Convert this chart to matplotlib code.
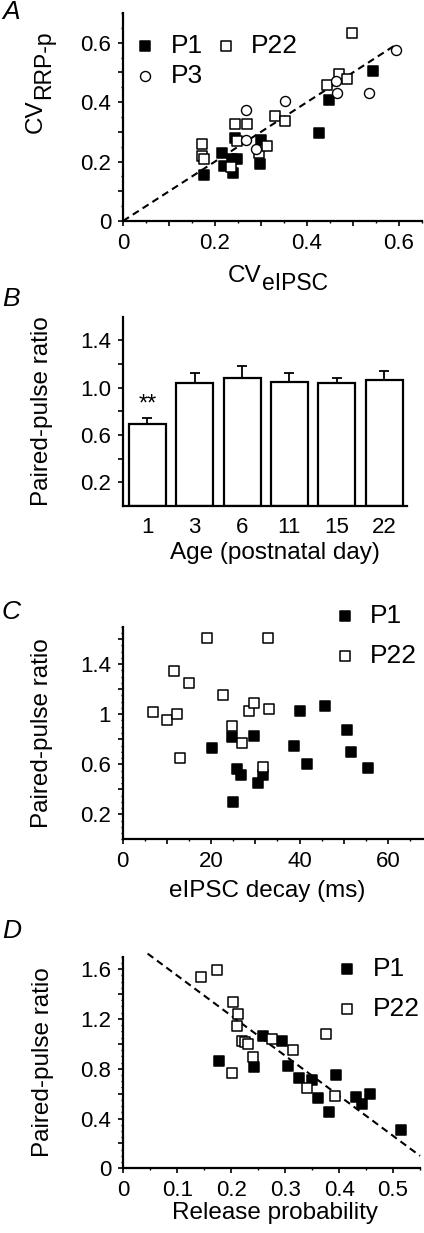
import numpy as np
import matplotlib.pyplot as plt
from matplotlib.ticker import MultipleLocator

plt.rcParams['font.family'] = ['Liberation Sans', 'DejaVu Sans']

# ---- Panel A: CV of RRP-p vs CV of eIPSC ----
a_p1_x = [0.177, 0.216, 0.220, 0.243, 0.247, 0.240, 0.236, 0.301, 0.298, 0.426, 0.448, 0.544]
a_p1_y = [0.154, 0.230, 0.185, 0.280, 0.210, 0.160, 0.208, 0.271, 0.191, 0.297, 0.408, 0.506]
a_p22_x = [0.171, 0.171, 0.176, 0.243, 0.269, 0.247, 0.234, 0.295, 0.312, 0.330, 0.352,
           0.443, 0.469, 0.486, 0.498]
a_p22_y = [0.258, 0.219, 0.210, 0.325, 0.325, 0.269, 0.182, 0.230, 0.251, 0.353, 0.338,
           0.459, 0.495, 0.478, 0.632]
a_p3_x = [0.267, 0.267, 0.289, 0.353, 0.462, 0.465, 0.535, 0.593]
a_p3_y = [0.372, 0.274, 0.243, 0.405, 0.472, 0.430, 0.430, 0.575]
a_fit_x = [0.0, 0.59]
a_fit_y = [0.0, 0.59]

# ---- Panel B: paired-pulse ratio by age ----
ages = ['1', '3', '6', '11', '15', '22']
ppr_mean = [0.69, 1.036, 1.081, 1.05, 1.042, 1.065]
ppr_sem = [0.056, 0.084, 0.10, 0.078, 0.036, 0.076]

# ---- Panel C: PPR vs eIPSC decay ----
c_p1_x = [20.3, 24.8, 25.8, 26.7, 25.0, 29.7, 30.5, 31.8, 38.8, 40.0, 41.8, 45.8, 50.7, 51.7, 55.6]
c_p1_y = [0.728, 0.821, 0.560, 0.514, 0.296, 0.826, 0.453, 0.514, 0.749, 1.026, 0.602, 1.069,
          0.874, 0.701, 0.568]
c_p22_x = [19.0, 32.8, 11.7, 15.0, 22.8, 6.9, 10.0, 12.2, 13.0, 24.8, 26.9, 28.6, 29.7, 33.2, 31.8]
c_p22_y = [1.613, 1.608, 1.346, 1.248, 1.152, 1.018, 0.954, 1.002, 0.648, 0.906, 0.768, 1.029,
           1.088, 1.042, 0.581]

# ---- Panel D: PPR vs release probability ----
d_p1_x = [0.178, 0.243, 0.259, 0.295, 0.306, 0.326, 0.349, 0.361, 0.381, 0.395, 0.432, 0.443,
          0.457, 0.514]
d_p1_y = [0.866, 0.813, 1.061, 1.021, 0.821, 0.728, 0.706, 0.565, 0.456, 0.746, 0.573, 0.520,
          0.600, 0.306]
d_p22_x = [0.144, 0.174, 0.204, 0.213, 0.210, 0.201, 0.220, 0.225, 0.231, 0.241, 0.275, 0.314,
           0.341, 0.375, 0.392]
d_p22_y = [1.538, 1.592, 1.338, 1.240, 1.146, 0.768, 1.026, 1.013, 1.000, 0.898, 1.040, 0.952,
           0.648, 1.080, 0.581]
d_fit_x = [0.045, 0.55]
d_fit_y = [1.725, 0.10]

W, H = 424, 1233
fig = plt.figure(figsize=(W / 100, H / 100), dpi=100)

TICK_FS = 16
LABEL_FS = 17.5
LEG_FS = 19


def make_axes(left, right, top, bottom):
    return fig.add_axes([left / W, 1 - bottom / H, (right - left) / W, (bottom - top) / H])


def style(ax):
    for s in ['top', 'right']:
        ax.spines[s].set_visible(False)
    for s in ['left', 'bottom']:
        ax.spines[s].set_linewidth(1.6)
    ax.tick_params(which='major', direction='out', length=3.5, width=1.2, labelsize=TICK_FS, pad=5)
    ax.tick_params(which='minor', direction='out', length=1.5, width=1.0)


def add_legend(ax, handles, anchor, ncol=1, spacing=0.55):
    ax.legend(handles=handles, ncol=ncol, frameon=False, fontsize=LEG_FS, loc='upper left',
              bbox_to_anchor=anchor, borderaxespad=0, borderpad=0, handlelength=0.9,
              handletextpad=0.5, columnspacing=0.45, labelspacing=spacing, scatterpoints=1)


sq = dict(marker='s', s=50, linewidths=1.1, zorder=3)
dash = (0, (3.4, 2.2))

# Panel A
axA = make_axes(123, 422, 13, 221)
style(axA)
axA.plot(a_fit_x, a_fit_y, color='black', lw=1.5, ls=dash, zorder=2)
h1 = axA.scatter(a_p1_x, a_p1_y, facecolor='black', edgecolor='black', label='P1', **sq)
h22 = axA.scatter(a_p22_x, a_p22_y, facecolor='white', edgecolor='black', label='P22', **sq)
h3 = axA.scatter(a_p3_x, a_p3_y, marker='o', s=52, facecolor='white', edgecolor='black',
                 linewidths=1.0, label='P3', zorder=3)
axA.set_xlim(0, 0.65)
axA.set_ylim(0, 0.70)
axA.set_xticks(np.arange(0, 0.61, 0.1))
axA.set_xticklabels(['0', '', '0.2', '', '0.4', '', '0.6'])
axA.set_yticks(np.arange(0, 0.61, 0.1))
axA.set_yticklabels(['0', '', '0.2', '', '0.4', '', '0.6'])
axA.xaxis.set_minor_locator(MultipleLocator(0.05))
axA.yaxis.set_minor_locator(MultipleLocator(0.05))
# x label: CV with a large subscript
cvx = axA.text(0.4615, -0.212, 'CV', transform=axA.transAxes, ha='right', va='top',
               fontsize=LABEL_FS)
axA.annotate('eIPSC', xy=(1, 0), xycoords=cvx, xytext=(0.5, -5.5), textcoords='offset points',
             ha='left', va='bottom', fontsize=LABEL_FS - 1)
# y label: CV with a large subscript, rotated
cvy = axA.text(-0.254, 0.423, 'CV', transform=axA.transAxes, ha='right', va='bottom',
               rotation=90, fontsize=LABEL_FS)
axA.annotate('RRP-p', xy=(1, 1), xycoords=cvy, xytext=(5.5, 0.5), textcoords='offset points',
             ha='right', va='bottom', rotation=90, fontsize=LABEL_FS - 1)
add_legend(axA, [h1, h3, h22], (0.035, 0.90), ncol=2, spacing=0.25)

# Panel B
axB = make_axes(122.7, 407.3, 316.7, 506)
style(axB)
xpos = np.arange(len(ages))
axB.bar(xpos, ppr_mean, width=0.78, facecolor='white', edgecolor='black', linewidth=1.6,
        zorder=2)
axB.errorbar(xpos, ppr_mean, yerr=[np.zeros(len(ages)), ppr_sem], fmt='none', ecolor='black',
             elinewidth=1.3, capsize=3.3, capthick=1.3, zorder=1)
axB.text(xpos[0], 0.86, '**', ha='center', va='center', fontsize=17)
axB.set_xlim(-0.52, 5.49)
axB.set_ylim(0, 1.6)
axB.set_xticks(xpos)
axB.set_xticklabels(ages)
axB.tick_params(axis='x', length=0, pad=8)
axB.set_yticks(np.arange(0.2, 1.41, 0.2))
axB.set_yticklabels(['0.2', '', '0.6', '', '1.0', '', '1.4'])
axB.set_xlabel('Age (postnatal day)', fontsize=LABEL_FS, va='top')
axB.xaxis.set_label_coords(0.535, -0.19)
axB.set_ylabel('Paired-pulse ratio', fontsize=LABEL_FS)
axB.yaxis.set_label_coords(-0.245, 0.5)

# Panel C
axC = make_axes(122.7, 423.3, 626.7, 839.3)
style(axC)
c1 = axC.scatter(c_p1_x, c_p1_y, facecolor='black', edgecolor='black', label='P1', **sq)
c22 = axC.scatter(c_p22_x, c_p22_y, facecolor='white', edgecolor='black', label='P22', **sq)
axC.set_xlim(0, 68)
axC.set_ylim(0, 1.70)
axC.set_xticks(np.arange(0, 61, 10))
axC.set_xticklabels(['0', '', '20', '', '40', '', '60'])
axC.xaxis.set_minor_locator(MultipleLocator(5))
axC.set_yticks(np.arange(0.2, 1.61, 0.2))
axC.set_yticklabels(['0.2', '', '0.6', '', '1', '', '1.4', ''])
axC.yaxis.set_minor_locator(MultipleLocator(0.05))
axC.set_xlabel('eIPSC decay (ms)', fontsize=LABEL_FS, va='top')
axC.xaxis.set_label_coords(0.48, -0.19)
axC.set_ylabel('Paired-pulse ratio', fontsize=LABEL_FS)
axC.yaxis.set_label_coords(-0.232, 0.5)
add_legend(axC, [c1, c22], (0.70, 1.105), spacing=0.6)

# Panel D
axD = make_axes(123.3, 420, 956.7, 1168.3)
style(axD)
axD.plot(d_fit_x, d_fit_y, color='black', lw=1.5, ls=dash, zorder=2, clip_on=False)
d1 = axD.scatter(d_p1_x, d_p1_y, facecolor='black', edgecolor='black', label='P1', **sq)
d22 = axD.scatter(d_p22_x, d_p22_y, facecolor='white', edgecolor='black', label='P22', **sq)
axD.set_xlim(0, 0.55)
axD.set_ylim(0, 1.70)
axD.set_xticks(np.arange(0, 0.51, 0.1))
axD.set_xticklabels(['0', '0.1', '0.2', '0.3', '0.4', '0.5'])
axD.xaxis.set_minor_locator(MultipleLocator(0.05))
axD.set_yticks(np.arange(0, 1.61, 0.2))
axD.set_yticklabels(['0', '', '0.4', '', '0.8', '', '1.2', '', '1.6'])
axD.yaxis.set_minor_locator(MultipleLocator(0.05))
axD.set_xlabel('Release probability', fontsize=LABEL_FS, va='top')
axD.xaxis.set_label_coords(0.51, -0.16)
axD.set_ylabel('Paired-pulse ratio', fontsize=LABEL_FS)
axD.yaxis.set_label_coords(-0.232, 0.5)
add_legend(axD, [d1, d22], (0.715, 1.0), spacing=0.6)

# panel letters
for letter, ytop in [('A', 0), ('B', 287), ('C', 600), ('D', 919)]:
    fig.text(2 / W, 1 - ytop / H, letter, fontsize=19, style='italic', ha='left', va='top')

fig.savefig('out.png', dpi=100)
